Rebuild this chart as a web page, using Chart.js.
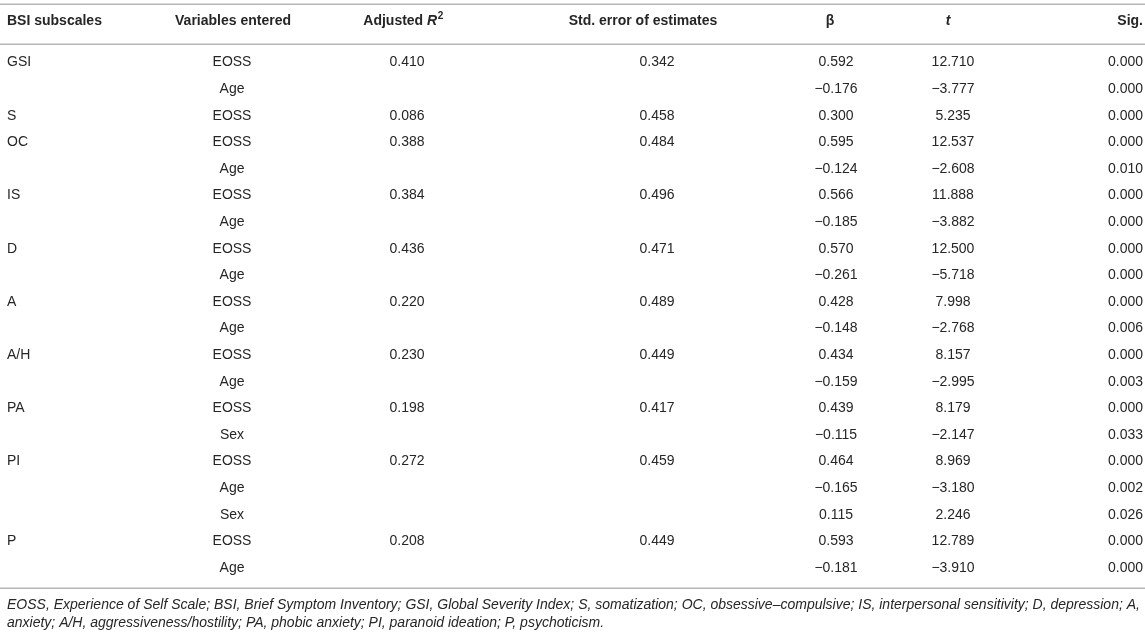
<!DOCTYPE html>
<html>
<head>
<meta charset="utf-8">
<script src="https://cdn.jsdelivr.net/npm/chart.js@4/dist/chart.umd.min.js"></script>
<style>
  html, body { margin: 0; padding: 0; background: #fff; }
  #wrap { width: 1145px; height: 639px; position: relative; }
</style>
</head>
<body>
<div id="wrap"><canvas id="tableChart"></canvas></div>
<script>
// table values, one array per column
const subscales = ["GSI", "", "S", "OC", "", "IS", "", "D", "", "A", "", "A/H", "", "PA", "", "PI", "", "", "P", ""];
const variables = ["EOSS", "Age", "EOSS", "EOSS", "Age", "EOSS", "Age", "EOSS", "Age", "EOSS", "Age",
  "EOSS", "Age", "EOSS", "Sex", "EOSS", "Age", "Sex", "EOSS", "Age"];
const adjR2 = [0.410, null, 0.086, 0.388, null, 0.384, null, 0.436, null, 0.220, null,
  0.230, null, 0.198, null, 0.272, null, null, 0.208, null];
const stdErr = [0.342, null, 0.458, 0.484, null, 0.496, null, 0.471, null, 0.489, null,
  0.449, null, 0.417, null, 0.459, null, null, 0.449, null];
const beta = [0.592, -0.176, 0.300, 0.595, -0.124, 0.566, -0.185, 0.570, -0.261, 0.428, -0.148,
  0.434, -0.159, 0.439, -0.115, 0.464, -0.165, 0.115, 0.593, -0.181];
const tValues = [12.710, -3.777, 5.235, 12.537, -2.608, 11.888, -3.882, 12.500, -5.718, 7.998, -2.768,
  8.157, -2.995, 8.179, -2.147, 8.969, -3.180, 2.246, 12.789, -3.910];
const sig = [0.000, 0.000, 0.000, 0.000, 0.010, 0.000, 0.000, 0.000, 0.000, 0.000, 0.006,
  0.000, 0.003, 0.000, 0.033, 0.000, 0.002, 0.026, 0.000, 0.000];

const headers = ["BSI subscales", "Variables entered", "Adjusted R2", "Std. error of estimates", "β", "t", "Sig."];
const footnotes = [
  "EOSS, Experience of Self Scale; BSI, Brief Symptom Inventory; GSI, Global Severity Index; S, somatization; OC, obsessive–compulsive; IS, interpersonal sensitivity; D, depression; A,",
  "anxiety; A/H, aggressiveness/hostility; PA, phobic anxiety; PI, paranoid ideation; P, psychoticism."
];

// layout (row units on y, pixels on x)
const FONT = "'Liberation Sans', Arial, sans-serif";
const TEXT = "#262626";
const RULE = "#b5b5b5";
const headerRow = -1.56;
const ruleRows = [-2.2, -0.7, 19.75];
const footRows = [20.4, 21.08];
const bodyCols = [
  { x: 7, align: "left" },
  { x: 232, align: "center" },
  { x: 407, align: "center" },
  { x: 657, align: "center" },
  { x: 836, align: "center" },
  { x: 953, align: "center" },
  { x: 1143, align: "right" }
];
const headCols = [
  { x: 7, align: "left" },
  { x: 233, align: "center" },
  { x: 403, align: "center" },
  { x: 643, align: "center" },
  { x: 830, align: "center" },
  { x: 948, align: "center" },
  { x: 1143, align: "right" }
];

function fmt(v) {
  if (v === null || v === undefined) return "";
  return v.toFixed(3).replace("-", "\u2212");
}

function columnPoints(values, col, asText) {
  return values.map((v, i) => ({ x: bodyCols[col].x, y: i, text: asText ? v : fmt(v) }))
    .filter(p => p.text !== "");
}

function textSet(points, align, font) {
  return { data: points, align: align, font: font, pointRadius: 0, showLine: false };
}

const bodyFont = "14px " + FONT;
const datasets = [
  textSet(columnPoints(subscales, 0, true), "left", bodyFont),
  textSet(columnPoints(variables, 1, true), "center", bodyFont),
  textSet(columnPoints(adjR2, 2), "center", bodyFont),
  textSet(columnPoints(stdErr, 3), "center", bodyFont),
  textSet(columnPoints(beta, 4), "center", bodyFont),
  textSet(columnPoints(tValues, 5), "center", bodyFont),
  textSet(columnPoints(sig, 6), "right", bodyFont),
  {
    data: headers.map((h, i) => ({ x: headCols[i].x, y: headerRow, text: h, col: i })),
    header: true, pointRadius: 0, showLine: false
  },
  textSet(footnotes.map((f, i) => ({ x: 7, y: footRows[i], text: f })), "left", "italic 14px " + FONT)
];

function drawHeaderCell(ctx, p, x, y) {
  const bold = "bold 14px " + FONT;
  const align = headCols[p.col].align;
  ctx.font = bold;
  if (p.col === 2) {
    // "Adjusted R" with italic R and superscript 2
    const a = "Adjusted ";
    ctx.font = bold; const wa = ctx.measureText(a).width;
    ctx.font = "italic " + bold; const wr = ctx.measureText("R").width;
    ctx.font = "bold 10px " + FONT; const w2 = ctx.measureText("2").width;
    let left = x - (wa + wr + w2) / 2;
    ctx.textAlign = "left";
    ctx.font = bold; ctx.fillText(a, left, y);
    ctx.font = "italic " + bold; ctx.fillText("R", left + wa, y);
    ctx.font = "bold 10px " + FONT; ctx.fillText("2", left + wa + wr + 0.5, y - 5);
    return;
  }
  if (p.col === 5) ctx.font = "italic " + bold;
  ctx.textAlign = align;
  ctx.fillText(p.text, x, y);
}

const tablePlugin = {
  id: "tableText",
  beforeDatasetsDraw(chart) {
    const ctx = chart.ctx;
    const xs = chart.scales.x, ys = chart.scales.y;
    ctx.save();
    ctx.strokeStyle = RULE;
    ctx.lineWidth = 1.5;
    ruleRows.forEach(r => {
      const y = Math.round(ys.getPixelForValue(r)) + 0.25;
      ctx.beginPath();
      ctx.moveTo(xs.getPixelForValue(0), y);
      ctx.lineTo(xs.getPixelForValue(1145), y);
      ctx.stroke();
    });
    ctx.restore();
  },
  afterDatasetsDraw(chart) {
    const ctx = chart.ctx;
    ctx.save();
    ctx.fillStyle = TEXT;
    ctx.textBaseline = "middle";
    chart.data.datasets.forEach((ds, di) => {
      const meta = chart.getDatasetMeta(di);
      meta.data.forEach((el, i) => {
        const p = ds.data[i];
        if (ds.header) {
          drawHeaderCell(ctx, p, el.x, el.y);
        } else {
          ctx.font = ds.font;
          ctx.textAlign = ds.align;
          ctx.fillText(p.text, el.x, el.y);
        }
      });
    });
    ctx.restore();
  }
};

new Chart(document.getElementById("tableChart"), {
  type: "scatter",
  data: { datasets: datasets },
  options: {
    responsive: true,
    maintainAspectRatio: false,
    animation: false,
    events: [],
    layout: { padding: 0 },
    plugins: { legend: { display: false }, tooltip: { enabled: false } },
    scales: {
      x: { type: "linear", min: 0, max: 1145, display: false },
      y: { type: "linear", min: -2.35, max: 21.67, reverse: true, display: false }
    }
  },
  plugins: [tablePlugin]
});
</script>
</body>
</html>
